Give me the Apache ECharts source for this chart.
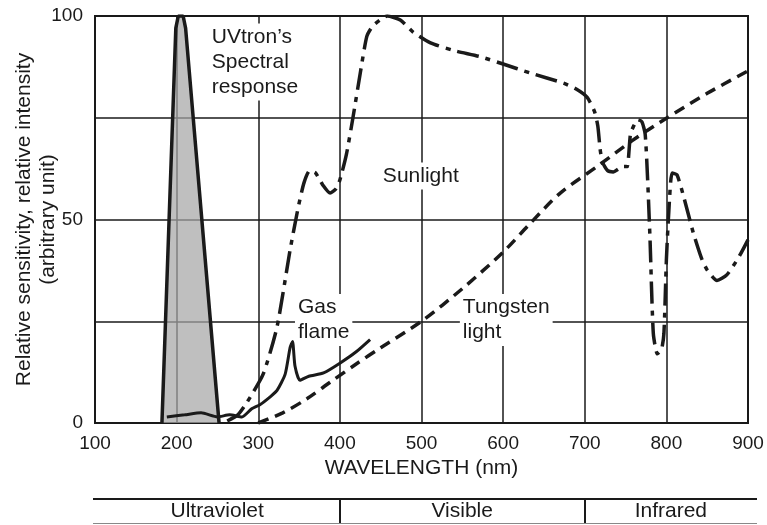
<!DOCTYPE html>
<html>
<head>
<meta charset="utf-8">
<script src="https://cdn.jsdelivr.net/npm/echarts@6/dist/echarts.min.js"></script>
<style>
  html, body { margin: 0; padding: 0; background: #fff; }
  #chart { width: 767px; height: 525px; }
</style>
</head>
<body>
<div id="chart"></div>
<script>
// wavelength (nm), relative value
const uvtron = [[182, 0], [199, 97], [202, 100], [208, 100], [211, 97], [252, 0]];

const gasFlame = [
  [188, 1.5], [210, 2], [230, 2.5], [250, 1.5], [265, 2], [280, 1.5], [292, 3.5], [302, 4.5],
  [315, 6.5], [323, 8], [333, 12], [339, 18.5], [342, 20], [345, 14], [351, 10.5], [362, 11.5],
  [380, 12.3], [400, 14.7], [420, 17.5], [437, 20.5]
];

const sunlight = [
  [262, 0.5], [275, 2], [286, 5], [306, 12], [323, 23.6], [339, 42.5], [349, 53], [356, 59],
  [363, 62], [370, 61.5], [379, 58.5], [388, 56.5], [395, 57.5], [400, 59.7], [408, 66],
  [416, 75], [425, 86], [433, 95], [440, 97.5], [449, 99], [458, 100], [474, 99], [490, 96],
  [511, 93.4], [540, 91.5], [572, 90], [600, 88.2], [633, 86], [674, 83.5], [690, 82],
  [703, 80], [712, 76.5], [716, 73], [719, 67], [722, 64], [728, 62], [735, 61.7], [742, 62.5],
  [748, 63], [752, 63], [756, 71], [760, 73], [765, 74.5], [770, 74], [774, 71], [777, 60],
  [780, 45], [784, 22], [789, 17], [794, 18], [797, 22], [800, 40], [803, 52], [807, 61.4],
  [813, 61], [822, 55], [833, 46.7], [843, 40.5], [850, 37.6], [862, 35], [874, 36.4],
  [888, 40.5], [900, 45]
];

const tungsten = [
  [300, 0], [330, 2.5], [360, 6], [388, 10], [420, 14.5], [450, 18.5], [500, 25], [550, 33],
  [600, 42], [633, 49], [670, 56.5], [715, 63], [759, 69.5], [801, 75], [850, 81], [900, 86.5]
];

// text notes in the plot: [nm, value, text]
const notes = [
  [239.5, 88.7, 'UVtron\u2019s\nSpectral\nresponse'],
  [449, 60.7, 'Sunlight'],
  [345, 25.3, 'Gas\nflame'],
  [547, 25.3, 'Tungsten\nlight']
];

// regions band under the chart
const bandNames = ['Ultraviolet', 'Visible', 'Infrared'];
const bandEdges = [100, 400, 700, 911];

const yLabels = { 0: '0', 50: '50', 100: '100' };

const font = '"Liberation Sans", Arial, sans-serif';
const ink = '#1a1a1a';
const fs = 21;
const tickFs = 19;

const chart = echarts.init(document.getElementById('chart'));

chart.setOption({
  animation: false,
  textStyle: { fontFamily: font },
  grid: [
    {
      left: 95, right: 19, top: 16, bottom: 102, outerBoundsMode: 'none',
      show: true, borderColor: ink, borderWidth: 2
    },
    { left: 93, right: 10, top: 499, height: 24, outerBoundsMode: 'none' }
  ],
  xAxis: [
    {
      type: 'value', min: 100, max: 900, interval: 100,
      name: 'WAVELENGTH (nm)', nameLocation: 'middle', nameGap: 33,
      nameTextStyle: { fontSize: fs, color: ink, fontFamily: font },
      axisLine: { show: false },
      axisTick: { show: false },
      axisLabel: { fontSize: tickFs, color: ink, margin: 11, fontFamily: font },
      splitLine: { show: true, lineStyle: { color: ink, width: 1.5 } }
    },
    {
      gridIndex: 1, type: 'value', min: 98, max: bandEdges[3], show: false
    }
  ],
  yAxis: [
    {
      type: 'value', min: 0, max: 100, interval: 25,
      name: 'Relative sensitivity, relative intensity\n(arbitrary unit)',
      nameLocation: 'middle', nameGap: 35, nameMoveOverlap: false,
      nameTextStyle: { fontSize: fs, color: ink, lineHeight: 24, fontFamily: font },
      axisLine: { show: false },
      axisTick: { show: false },
      axisLabel: {
        fontSize: tickFs, color: ink, margin: 12, fontFamily: font,
        formatter: v => yLabels[v] || ''
      },
      splitLine: { show: true, lineStyle: { color: ink, width: 1.5 } }
    },
    { gridIndex: 1, type: 'value', min: 0, max: 1, show: false }
  ],
  series: [
    {
      name: 'notes', type: 'scatter', z: 1, symbolSize: 0,
      itemStyle: { opacity: 1 },
      data: notes.map(n => ({ value: [n[0], n[1]], label: { formatter: n[2] } })),
      label: {
        show: true, position: 'right', distance: 0, opacity: 1,
        fontSize: fs, lineHeight: 25, color: ink, fontFamily: font,
        backgroundColor: '#fff', padding: [1, 3]
      }
    },
    {
      name: 'UVtron', type: 'line', z: 3, data: uvtron, symbol: 'none',
      lineStyle: { color: ink, width: 3.5 },
      areaStyle: { color: '#a6a6a6', opacity: 0.72 }
    },
    {
      name: 'Gas flame', type: 'line', z: 3, data: gasFlame, symbol: 'none', smooth: 0.2,
      lineStyle: { color: ink, width: 3 }
    },
    {
      name: 'Sunlight', type: 'line', z: 3, data: sunlight, symbol: 'none', smooth: 0.2,
      lineStyle: { color: ink, width: 3.5, type: [22, 7, 5, 7] }
    },
    {
      name: 'Tungsten', type: 'line', z: 3, data: tungsten, symbol: 'none', smooth: 0.3,
      lineStyle: { color: ink, width: 3.5, type: [11, 7] }
    },
    {
      name: 'Regions', type: 'line', xAxisIndex: 1, yAxisIndex: 1, data: [],
      markArea: {
        silent: true,
        itemStyle: { color: 'transparent' },
        label: { show: true, position: 'inside', fontSize: fs, color: ink, fontFamily: font },
        data: bandNames.map((name, i) => [
          { name: name, xAxis: bandEdges[i], yAxis: 0 },
          { xAxis: bandEdges[i + 1], yAxis: 1 }
        ])
      },
      markLine: {
        silent: true, symbol: 'none', label: { show: false },
        lineStyle: { color: ink, width: 2, type: 'solid' },
        data: [
          [{ xAxis: 98, yAxis: 1 }, { xAxis: bandEdges[3], yAxis: 1 }],
          [{ xAxis: bandEdges[1], yAxis: 0 }, { xAxis: bandEdges[1], yAxis: 1 }],
          [{ xAxis: bandEdges[2], yAxis: 0 }, { xAxis: bandEdges[2], yAxis: 1 }],
          [{ xAxis: 98, yAxis: 0, lineStyle: { color: '#888', width: 1 } }, { xAxis: bandEdges[3], yAxis: 0 }]
        ]
      }
    }
  ]
});
</script>
</body>
</html>
